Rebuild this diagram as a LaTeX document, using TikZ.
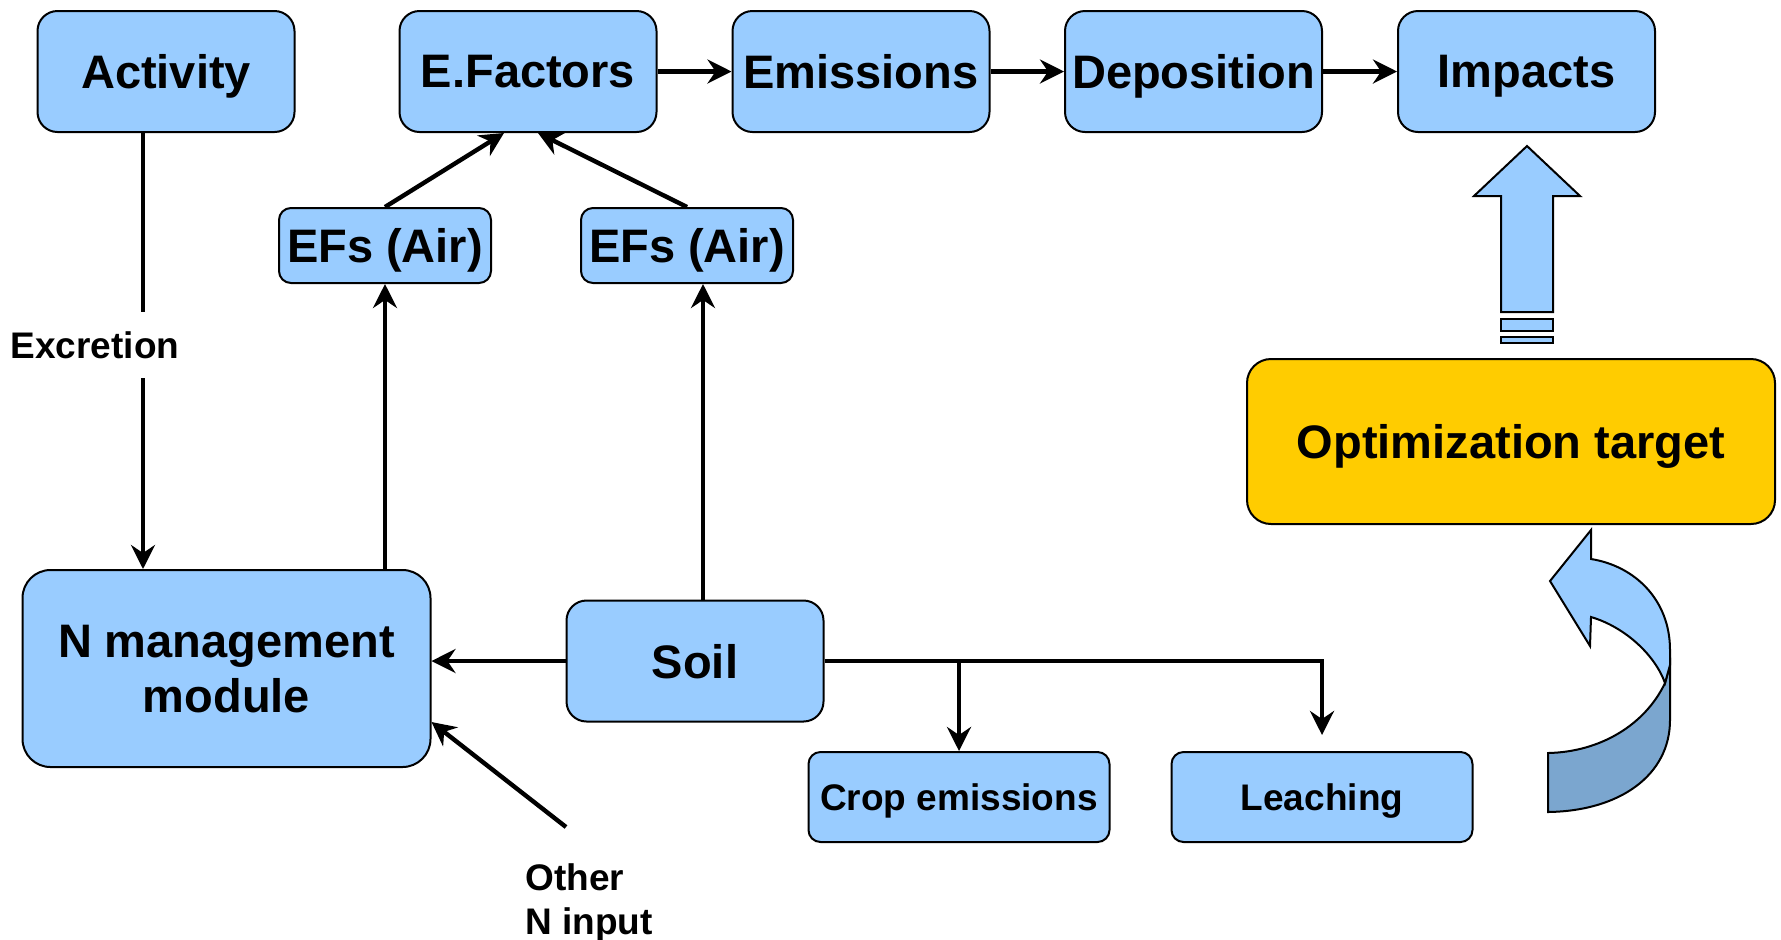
\documentclass[tikz,border=0pt]{standalone}
\usepackage{fontspec}
\setmainfont{Liberation Sans}
\usetikzlibrary{arrows.meta}
\definecolor{boxblue}{HTML}{99CCFF}
\definecolor{shadeblue}{HTML}{7BA6CF}
\definecolor{targetgold}{HTML}{FFCC00}
\begin{document}
\begin{tikzpicture}[x=0.5pt,y=-0.5pt,
    stagebox/.style={draw,line width=1pt,fill=boxblue,rounded corners=10pt,inner sep=0pt,text depth=0pt,
        font=\fontsize{23.5}{27.5}\selectfont\bfseries,minimum width=128.5pt,minimum height=60.5pt},
    smallbox/.style={stagebox,rounded corners=6pt,minimum width=106pt,minimum height=37.5pt},
    lowbox/.style={stagebox,rounded corners=6pt,font=\fontsize{18.5}{22}\selectfont\bfseries,
        minimum width=150.5pt,minimum height=45pt},
    note/.style={font=\fontsize{18.5}{22}\selectfont\bfseries,inner sep=0pt},
    wire/.style={line width=2.2pt},
    flow/.style={wire,-{Stealth[length=12pt,width=12pt,inset=4pt]}}]
            \useasboundingbox (0,0) rectangle (1781,939);
            \node[stagebox] (activity) at (166,71.5) {Activity};
            \node[stagebox] (efactors) at (528,71.5) {E.Factors};
            \node[stagebox] (emissions) at (861,71.5) {Emissions};
            \node[stagebox] (deposition) at (1193.5,71.5) {Deposition};
            \node[stagebox] (impacts) at (1526.5,71.5) {Impacts};
            \node[smallbox] (efair) at (385,245.5) {EFs (Air)};
            \node[smallbox] (efsoil) at (687,245.5) {EFs (Air)};
            \node[stagebox,rounded corners=14pt,minimum width=204pt,minimum height=98.5pt,align=center] (nmanage) at (226.5,668.5) {N management\\module};
            \node[stagebox] (soil) at (695,661) {Soil};
            \node[lowbox] (crop) at (959,797) {Crop emissions};
            \node[lowbox] (leach) at (1322,797) {Leaching};
            \node[stagebox,fill=targetgold,rounded corners=12pt,minimum width=264pt,minimum height=82.5pt] (target) at (1511,441.5) {Optimization target};
            \node[note,minimum height=33pt] (excretion) at (95,345) {Excretion};
            \node[note,align=left] (otherin) at (589,902.5) {Other\\N input};
            \coordinate (otherend) at (566,827);
            \draw[flow] (efactors) -- (emissions);
            \draw[flow] (emissions) -- (deposition);
            \draw[flow] (deposition) -- (impacts);
            \draw[flow] (efair.north) -- ([xshift=-12pt]efactors.south);
            \draw[flow] (efsoil.north) -- ([xshift=5pt]efactors.south);
            \draw[wire] ([xshift=-11.5pt]activity.south) -- ([xshift=-11.5pt]activity.south |- excretion.north);
            \draw[flow] ([xshift=-11.5pt]activity.south |- excretion.south) -- ([xshift=-11.5pt]activity.south |- nmanage.north);
            \draw[flow] (nmanage.north -| efair.south) -- (efair.south);
            \draw[flow] ([xshift=4pt]soil.north) -- ([xshift=4pt]soil.north |- efsoil.south);
            \draw[flow] (soil.west) -- (soil.west -| nmanage.east);
            \draw[flow] (otherend) -- (nmanage.east |- 0,722);
            \draw[flow] (soil.east) -| ([yshift=8pt]leach.north);
            \draw[flow] (soil.east -| crop.north) -- (crop.north);
            \draw[line width=1pt,fill=boxblue] (1501,312) -- (1501,196) -- (1474,196) -- (1527,146) -- (1580,196) -- (1553,196) -- (1553,312) -- cycle;
            \draw[line width=1pt,fill=boxblue] (1501,319) rectangle (1553,331);
            \draw[line width=1pt,fill=boxblue] (1501,337) rectangle (1553,343);
            \draw[line width=1pt,fill=shadeblue] (1665,683) -- (1670,665) -- (1670,720) .. controls (1670,775) and (1620,811) .. (1548,812) -- (1548,753) .. controls (1600,752) and (1645,725) .. (1665,683) -- cycle;
            \draw[line width=1pt,fill=boxblue] (1591,530) -- (1591,559) .. controls (1635,566) and (1670,600) .. (1670,650) -- (1670,665) -- (1665,683) .. controls (1655,655) and (1625,627) .. (1591,617) -- (1590,646) -- (1550,581) -- cycle;
        \end{tikzpicture}
\end{document}
